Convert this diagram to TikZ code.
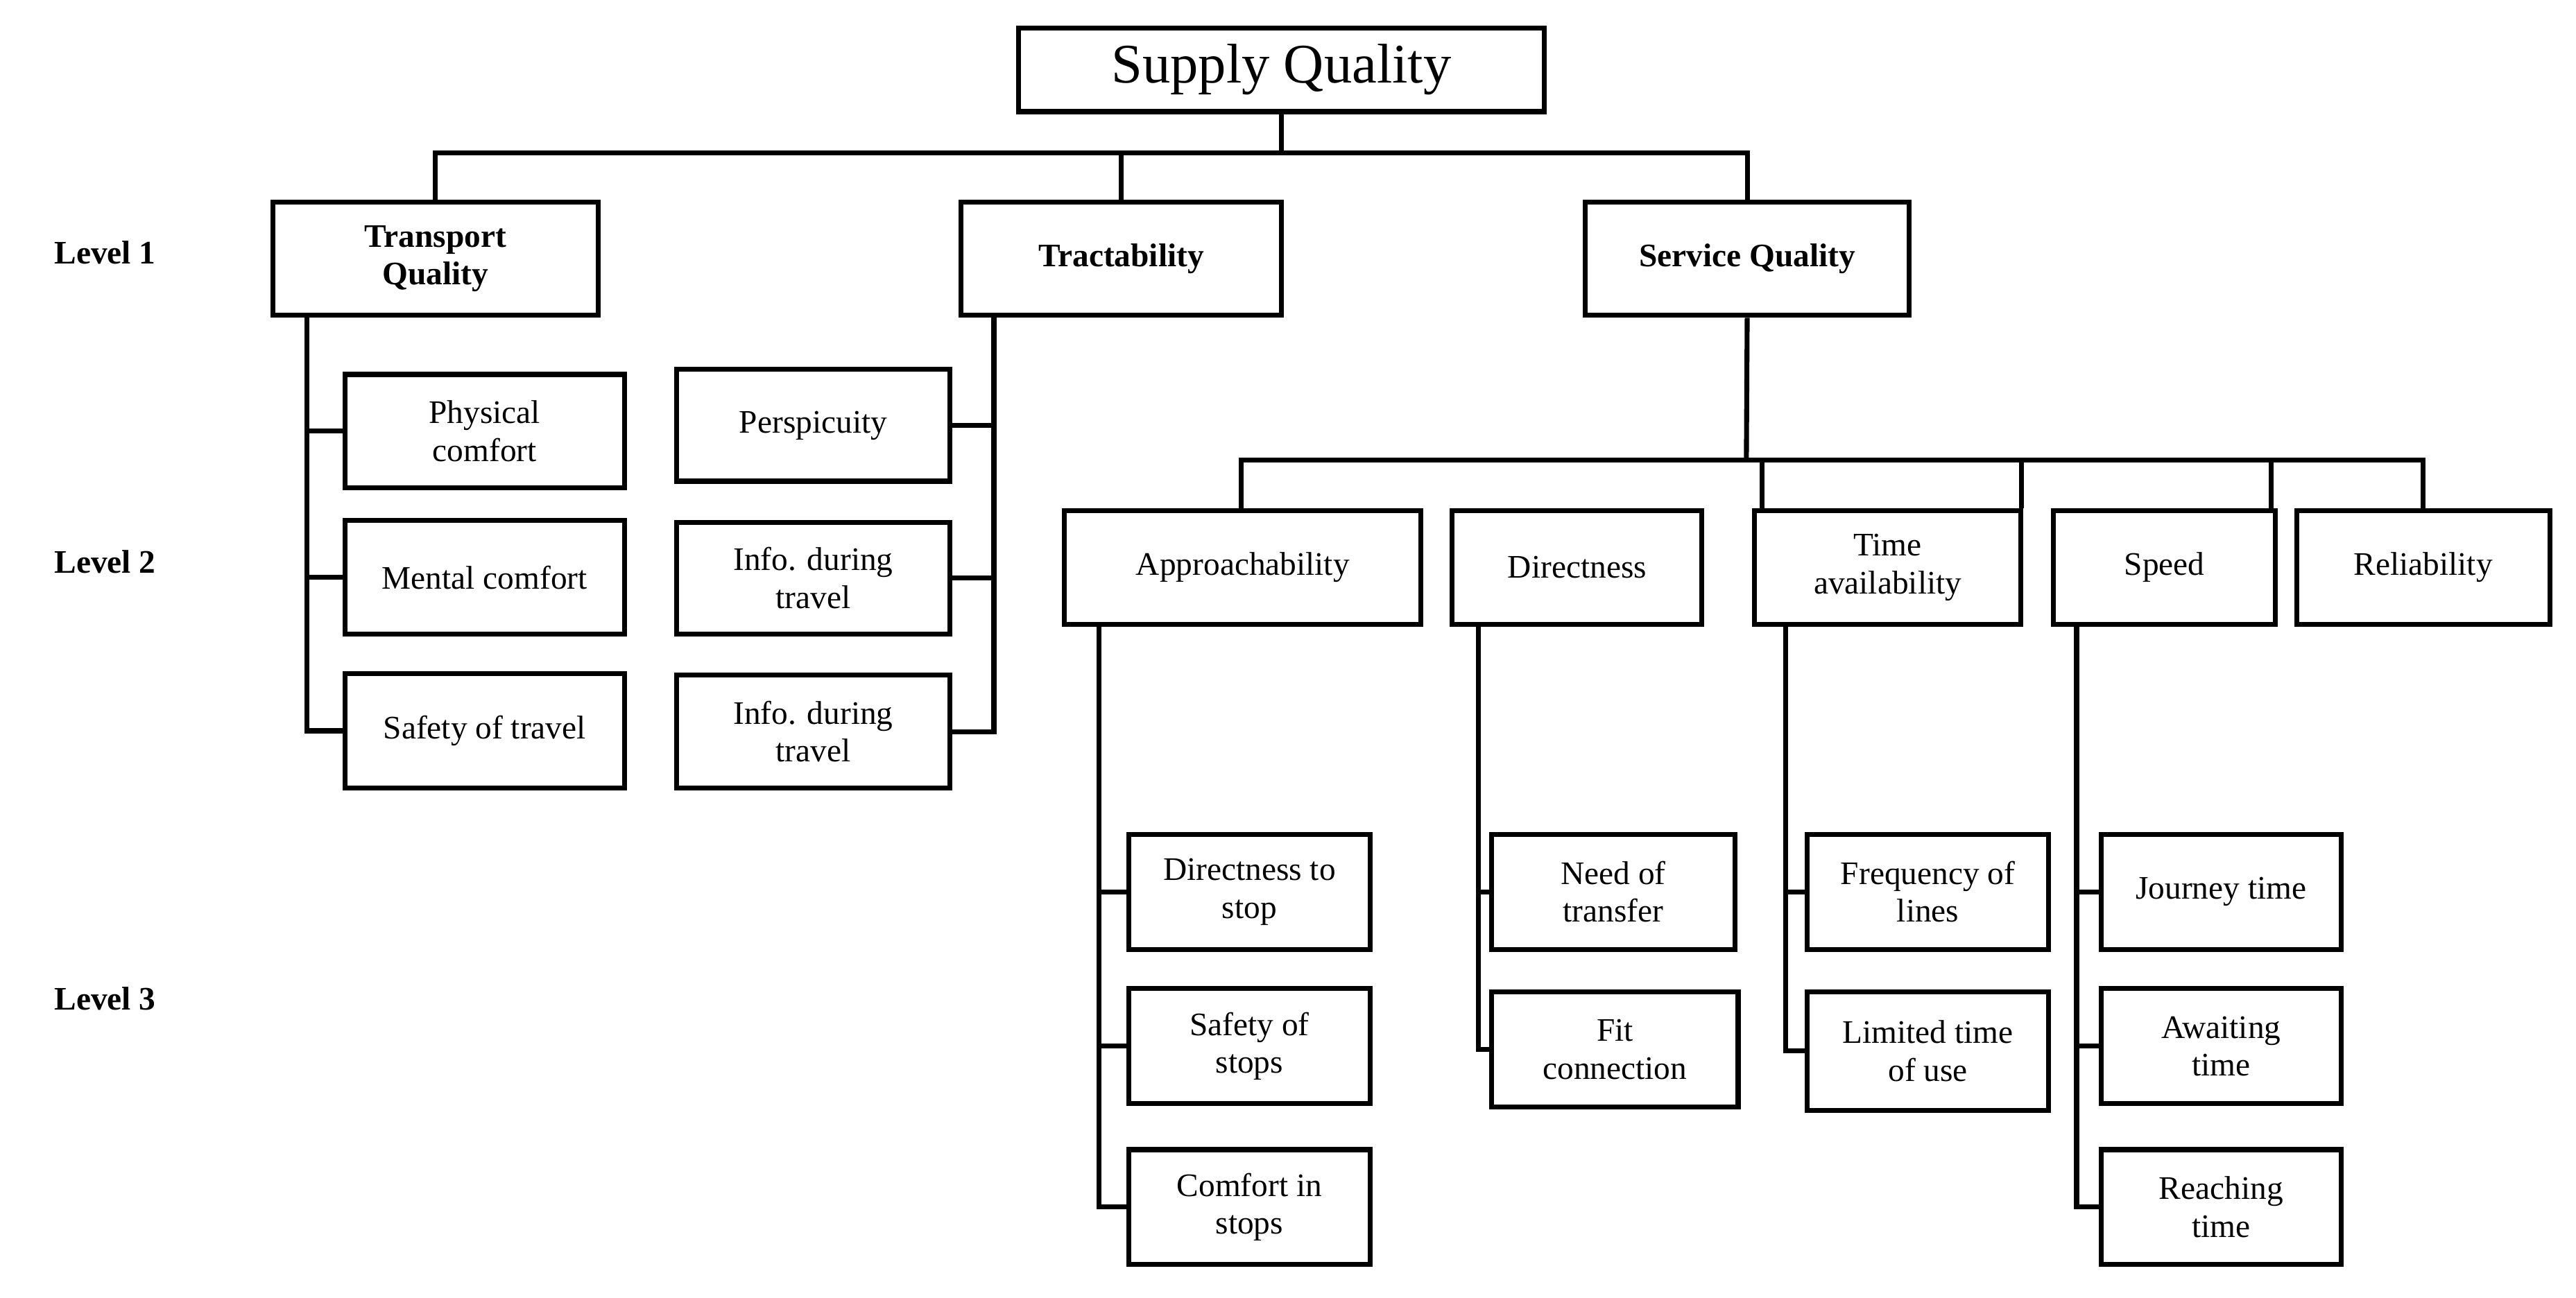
\documentclass[tikz,border=0pt]{standalone}
\usepackage{fontspec}
\setmainfont{Liberation Serif}
\begin{document}
\begin{tikzpicture}[x=0.5pt,y=-0.5pt,line width=1.5pt,
  box/.style={draw,line width=1.5pt,align=center,inner sep=0pt,font=\fontsize{10}{11.5}\selectfont},
  bbox/.style={box,font=\fontsize{10}{11.5}\selectfont\bfseries},
  lvl/.style={font=\fontsize{10}{12}\selectfont\bfseries,anchor=west}]
\useasboundingbox (0,0) rectangle (1568,790);
\newcommand\bx[7]{\pgfmathsetmacro\bw{(#5-#4)*0.5}\pgfmathsetmacro\bh{(#7-#6)*0.5}%
  \node[#1,minimum width=\bw pt,minimum height=\bh pt] (#2) at ({(#4+#5)/2},{(#6+#7)/2}) {#3};}
\bx{box,font=\fontsize{17}{20}\selectfont}{sq}{Supply Quality}{620}{940}{17}{68}
\bx{bbox}{tq}{Transport\\Quality}{166}{364}{123}{192}
\bx{bbox}{tr}{Tractability}{585}{780}{123}{192}
\bx{bbox}{sv}{Service Quality}{965}{1162}{123}{192}
\node[lvl] (l1) at (25,154) {Level 1};
\node[lvl] (l2) at (25,342) {Level 2};
\node[lvl] (l3) at (25,608) {Level 3};
% level 1 connections
\coordinate (bus) at (780,93);
\draw (sq.south) -- (bus);
\draw (tq.north) |- (bus) -| (sv.north);
\draw (tr.north) -- (tr.north |- bus);
% transport children
\bx{box}{pc}{Physical\\comfort}{210}{380}{228}{297}
\bx{box}{mc}{Mental comfort}{210}{380}{317}{386}
\bx{box}{st}{Safety of travel}{210}{380}{410}{480}
\coordinate (tqs) at (187,192);
\draw (tqs) |- (st.west);
\draw (pc.west) -- (pc.west -| tqs);
\draw (mc.west) -- (mc.west -| tqs);
% tractability children
\bx{box}{pe}{Perspicuity}{412}{578}{225}{293}
\bx{box}{i1}{Info. during\\travel}{412}{578}{318}{386}
\bx{box}{i2}{Info. during\\travel}{412}{578}{411}{480}
\coordinate (trs) at (605,192);
\draw (trs) |- (i2.east);
\draw (pe.east) -- (pe.east -| trs);
\draw (i1.east) -- (i1.east -| trs);
% service level 2
\bx{box}{ap}{Approachability}{648}{865}{311}{380}
\bx{box}{di}{Directness}{884}{1036}{311}{380}
\bx{box}{ta}{Time\\availability}{1068}{1230}{311}{380}
\bx{box}{sp}{Speed}{1250}{1385}{311}{380}
\bx{box}{re}{Reliability}{1398}{1552}{311}{380}
\coordinate (sbus) at (1063,280);
\draw (sv.south) -- (sbus);
\draw ([xshift=-0.5pt]ap.north) |- (sbus) -| (re.north);
\draw ([xshift=95]di.north west) -- ([xshift=95]di.north west |- sbus);
\draw ([xshift=82]ta.north west) -- ([xshift=82]ta.north west |- sbus);
\draw ([xshift=67]sp.north west) -- ([xshift=67]sp.north west |- sbus);
% approachability children
\bx{box}{ds}{Directness to\\stop}{687}{834}{508}{578}
\bx{box}{ss}{Safety of\\stops}{687}{834}{602}{672}
\bx{box}{cs}{Comfort in\\stops}{687}{834}{700}{770}
\coordinate (aps) at (669,380);
\draw (aps) |- (cs.west);
\draw (ds.west) -- (ds.west -| aps);
\draw (ss.west) -- (ss.west -| aps);
% directness children
\bx{box}{nt}{Need of\\transfer}{908}{1056}{508}{578}
\bx{box}{fc}{Fit\\connection}{908}{1058}{604}{674}
\coordinate (dis) at (900,380);
\draw (dis) |- (fc.west);
\draw (nt.west) -- (nt.west -| dis);
% time availability children
\bx{box}{fl}{Frequency of\\lines}{1100}{1247}{508}{578}
\bx{box}{lt}{Limited time\\of use}{1100}{1247}{604}{676}
\coordinate (tas) at (1087,380);
\draw (tas) |- (lt.west);
\draw (fl.west) -- (fl.west -| tas);
% speed children
\bx{box}{jt}{Journey time}{1279}{1425}{508}{578}
\bx{box}{at}{Awaiting\\time}{1279}{1425}{602}{672}
\bx{box}{rt}{Reaching\\time}{1279}{1425}{700}{770}
\coordinate (sps) at (1264,380);
\draw (sps) |- (rt.west);
\draw (jt.west) -- (jt.west -| sps);
\draw (at.west) -- (at.west -| sps);
\end{tikzpicture}
\end{document}
